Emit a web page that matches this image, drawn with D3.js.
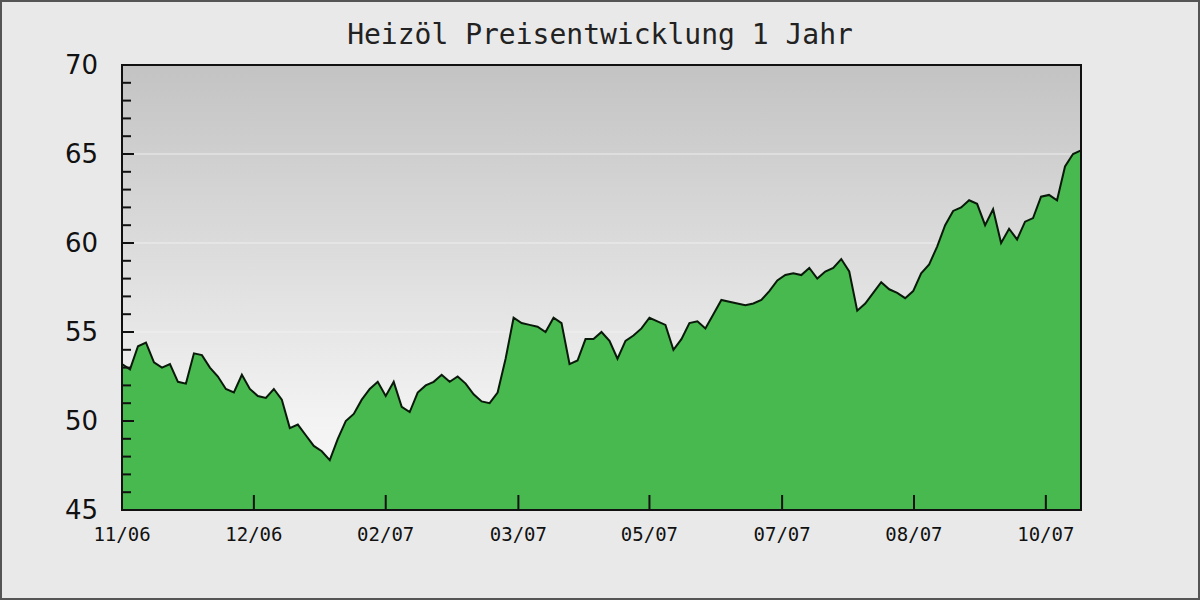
<!DOCTYPE html><html><head><meta charset="utf-8">
<script src="https://cdn.jsdelivr.net/npm/d3@7"></script>
<style>body{margin:0;background:#e9e9e9}</style></head><body>
<svg id="c" width="1200" height="600"></svg>
<script>
const title = "Heizöl Preisentwicklung 1 Jahr";
const prices = [53.2,52.9,54.2,54.4,53.3,53.0,53.2,52.2,52.1,53.8,53.7,53.0,52.5,51.8,51.6,52.6,51.8,51.4,51.3,51.8,51.2,49.6,49.8,49.2,48.6,48.3,47.8,49.0,50.0,50.4,51.2,51.8,52.2,51.4,52.2,50.8,50.5,51.6,52.0,52.2,52.6,52.2,52.5,52.1,51.5,51.1,51.0,51.6,53.5,55.8,55.5,55.4,55.3,55.0,55.8,55.5,53.2,53.4,54.6,54.6,55.0,54.5,53.5,54.5,54.8,55.2,55.8,55.6,55.4,54.0,54.6,55.5,55.6,55.2,56.0,56.8,56.7,56.6,56.5,56.6,56.8,57.3,57.9,58.2,58.3,58.2,58.6,58.0,58.4,58.6,59.1,58.4,56.2,56.6,57.2,57.8,57.4,57.2,56.9,57.3,58.3,58.8,59.8,61.0,61.8,62.0,62.4,62.2,61.0,61.9,60.0,60.8,60.2,61.2,61.4,62.6,62.7,62.4,64.3,65.0,65.2];
const tickLabels = ["11/06","12/06","02/07","03/07","05/07","07/07","08/07","10/07"];
const tickIdx = [0,16.5,33,49.6,66,82.6,99.1,115.6];
const yTicks = [45,50,55,60,65,70];

const svg = d3.select("#c");
svg.append("rect").attr("x",1).attr("y",1).attr("width",1198).attr("height",598).attr("fill","#e9e9e9").attr("stroke","#555").attr("stroke-width",2);
const L=122,R=1081,T=65,B=510;
const x = d3.scaleLinear().domain([0,prices.length-1]).range([L,R]);
const y = d3.scaleLinear().domain([45,70]).range([B,T]);
const g = svg.append("defs").append("linearGradient").attr("id","bg").attr("x1",0).attr("x2",0).attr("y1",0).attr("y2",1);
g.append("stop").attr("offset","0").attr("stop-color","#c3c3c3");
g.append("stop").attr("offset","0.8").attr("stop-color","#f3f3f3");
g.append("stop").attr("offset","1").attr("stop-color","#f8f8f8");
svg.append("rect").attr("x",L).attr("y",T).attr("width",R-L).attr("height",B-T).attr("fill","url(#bg)");
svg.selectAll(".grid").data([50,55,60,65]).join("line").attr("x1",L).attr("x2",R).attr("y1",d=>y(d)).attr("y2",d=>y(d)).attr("stroke","#f4f4f4").attr("stroke-opacity",0.55).attr("stroke-width",1.5);
const area = d3.area().x((d,i)=>x(i)).y0(B).y1(d=>y(d));
svg.append("path").datum(prices).attr("d",area).attr("fill","#48b94e");
svg.append("path").datum(prices).attr("d",d3.line().x((d,i)=>x(i)).y(d=>y(d))).attr("fill","none").attr("stroke","#0a1a0a").attr("stroke-width",2);
svg.append("rect").attr("x",L).attr("y",T).attr("width",R-L).attr("height",B-T).attr("fill","none").attr("stroke","#111").attr("stroke-width",2);
svg.selectAll(".ym").data(d3.range(45,71)).join("line").attr("x1",L).attr("x2",d=>d%5===0?L+12:L+9).attr("y1",d=>y(d)).attr("y2",d=>y(d)).attr("stroke","#111").attr("stroke-width",2);
svg.selectAll(".yl").data(yTicks).join("text").attr("x",L-24).attr("y",d=>y(d)+9).attr("text-anchor","end").attr("font-family","DejaVu Sans").attr("font-size",26).attr("fill","#111").text(d=>d);
svg.selectAll(".xt").data(tickIdx).join("line").attr("x1",d=>x(d)).attr("x2",d=>x(d)).attr("y1",B).attr("y2",B-15).attr("stroke","#111").attr("stroke-width",2);
svg.selectAll(".xl").data(tickLabels).join("text").attr("x",(d,i)=>x(tickIdx[i])).attr("y",B+31).attr("text-anchor","middle").attr("font-family","DejaVu Sans Mono").attr("font-size",19).attr("fill","#111").text(d=>d);
svg.append("text").attr("x",600).attr("y",44).attr("text-anchor","middle").attr("font-family","DejaVu Sans Mono").attr("font-size",28).attr("fill","#222").text(title);
</script></body></html>
